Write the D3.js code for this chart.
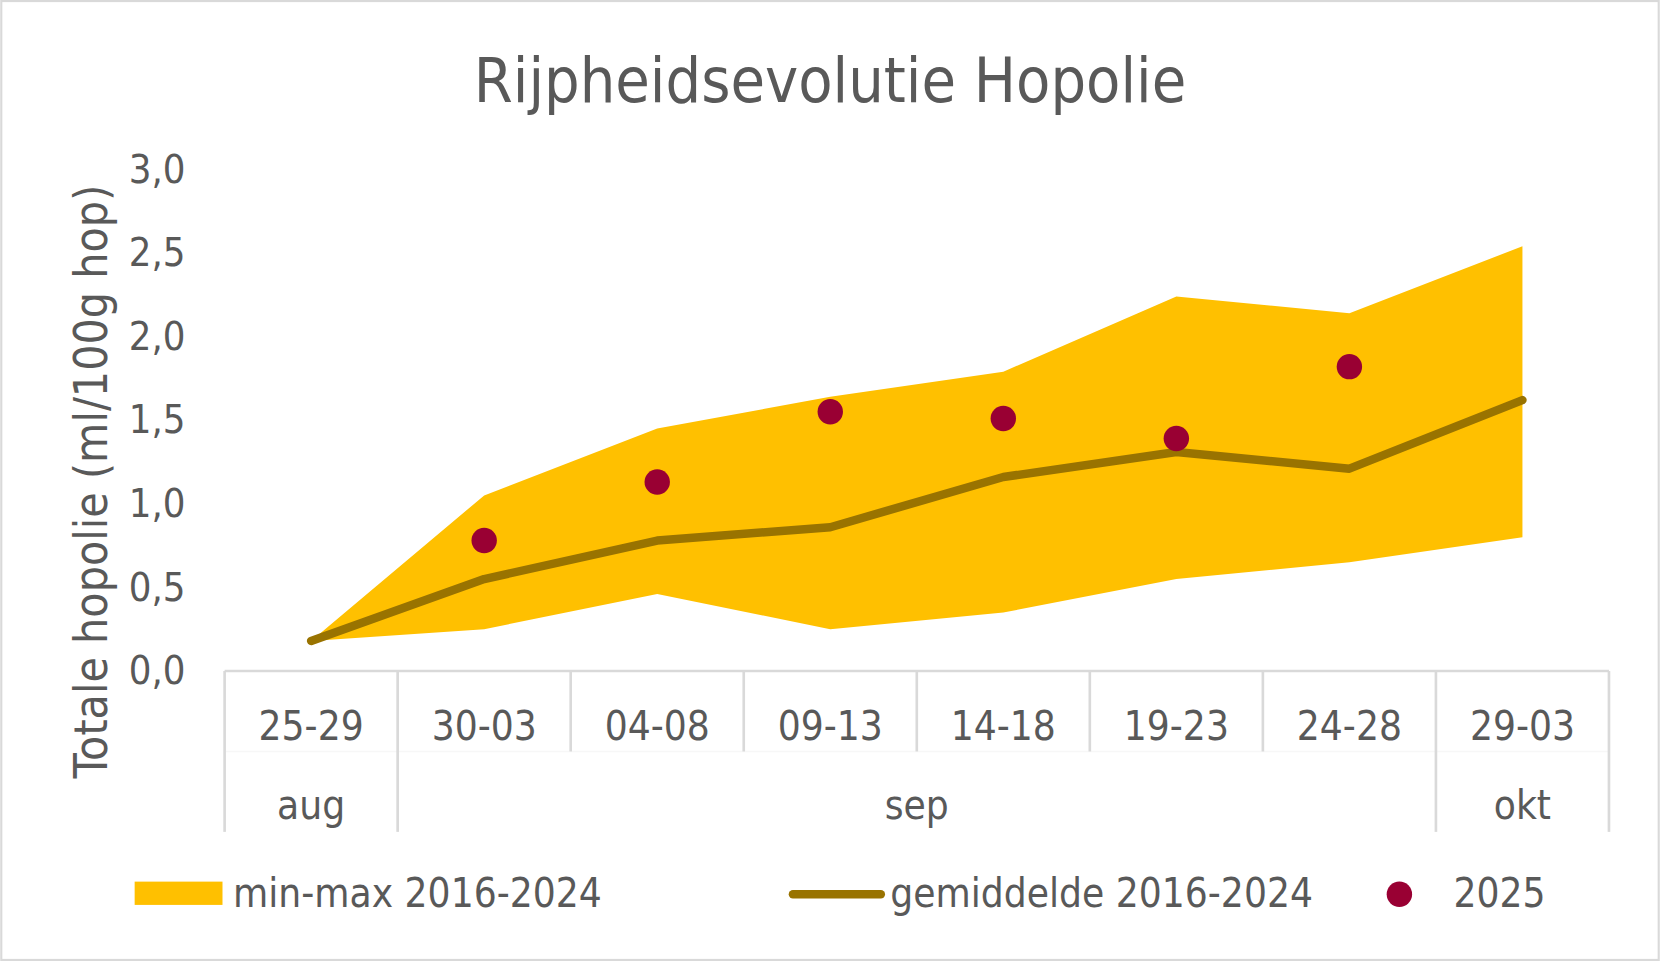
<!DOCTYPE html>
<html>
<head>
<meta charset="utf-8">
<script src="https://cdn.jsdelivr.net/npm/d3@7"></script>
<style>
  body { margin: 0; background: #fff; }
  text { font-family: "DejaVu Sans Condensed", "DejaVu Sans", sans-serif; font-stretch: condensed; fill: #595959; }
</style>
</head>
<body>
<div id="chart"></div>
<script>
// weeks (period labels) and the month they belong to
var categories = ["25-29", "30-03", "04-08", "09-13", "14-18", "19-23", "24-28", "29-03"];
var months = ["aug", "sep", "okt"];
var monthCounts = [1, 6, 1];

// totale hopolie (ml/100g hop)
var minValues  = [0.18, 0.25, 0.46, 0.25, 0.35, 0.55, 0.65, 0.80];
var maxValues  = [0.18, 1.05, 1.45, 1.64, 1.79, 2.24, 2.14, 2.54];
var meanValues = [0.18, 0.55, 0.78, 0.86, 1.16, 1.31, 1.21, 1.62];
var values2025 = [null, 0.78, 1.13, 1.55, 1.51, 1.39, 1.82, null];

var yTicks = [0, 0.5, 1, 1.5, 2, 2.5, 3];

var legendLabels = ["min-max 2016-2024", "gemiddelde 2016-2024", "2025"];

var W = 1568, H = 908,
    plot = {left: 212, right: 1520, top: 160, bottom: 634},
    colors = {band: "#FFC000", mean: "#997300", dot: "#990033", grid: "#D9D9D9"};

var svg = d3.select("#chart")
  .append("svg")
  .attr("width", 1660)
  .attr("height", 961)
  .attr("viewBox", `0 0 ${W} ${H}`);

svg.append("rect")
  .attr("x", 1).attr("y", 1)
  .attr("width", W - 2).attr("height", H - 2)
  .attr("fill", "#fff")
  .attr("stroke", colors.grid)
  .attr("stroke-width", 2);

var xScale = d3.scaleBand().domain(categories).range([plot.left, plot.right]);
var yScale = d3.scaleLinear().domain([0, 3]).range([plot.bottom, plot.top]);
var cx = d => xScale(d) + xScale.bandwidth() / 2;

var fmt = d3.formatLocale({decimal: ",", thousands: ".", grouping: [3], currency: ["€", ""]}).format(".1f");

// title
svg.append("text")
  .attr("x", 784).attr("y", 96)
  .attr("text-anchor", "middle")
  .style("font-size", "59px")
  .text("Rijpheidsevolutie Hopolie");

// y axis
var yAxis = d3.axisLeft(yScale).tickValues(yTicks).tickFormat(fmt).tickSize(0).tickPadding(37);
var gy = svg.append("g")
  .attr("transform", `translate(${plot.left},0)`)
  .call(yAxis);
gy.select(".domain").remove();
gy.selectAll("text")
  .style("font-size", "37.5px")
  .attr("fill", "#595959")
  .attr("font-family", null);

svg.append("text")
  .attr("transform", "translate(101,455) rotate(-90)")
  .attr("text-anchor", "middle")
  .style("font-size", "43.5px")
  .text("Totale hopolie (ml/100g hop)");

// data: min-max band
var rows = categories.map((c, i) => ({cat: c, min: minValues[i], max: maxValues[i], mean: meanValues[i], v: values2025[i]}));

svg.append("path")
  .datum(rows)
  .attr("fill", colors.band)
  .attr("d", d3.area().x(d => cx(d.cat)).y0(d => yScale(d.min)).y1(d => yScale(d.max)));

svg.append("path")
  .datum(rows)
  .attr("fill", "none")
  .attr("stroke", colors.mean)
  .attr("stroke-width", 8)
  .attr("stroke-linecap", "round")
  .attr("stroke-linejoin", "round")
  .attr("d", d3.line().x(d => cx(d.cat)).y(d => yScale(d.mean)));

svg.selectAll(".dot")
  .data(rows.filter(d => d.v != null))
  .enter().append("circle")
  .attr("class", "dot")
  .attr("cx", d => cx(d.cat))
  .attr("cy", d => yScale(d.v))
  .attr("r", 12)
  .attr("fill", colors.dot);

// x axis: two-level category axis
var row1 = 710, row2 = 786;
var axisG = svg.append("g").attr("stroke", colors.grid).attr("stroke-width", 2.5);
axisG.append("line")
  .attr("x1", plot.left).attr("x2", plot.right)
  .attr("y1", plot.bottom).attr("y2", plot.bottom);
axisG.append("line")
  .attr("x1", plot.left).attr("x2", plot.right)
  .attr("y1", row1).attr("y2", row1)
  .attr("stroke", "#F7F7F7").attr("stroke-width", 1.5);

var monthStarts = [];
monthCounts.reduce((acc, n) => { monthStarts.push(acc); return acc + n; }, 0);
var boundaries = categories.map((c, i) => i).concat([categories.length]);
axisG.selectAll(".tick-line")
  .data(boundaries)
  .enter().append("line")
  .attr("x1", i => i < categories.length ? xScale(categories[i]) : plot.right)
  .attr("x2", i => i < categories.length ? xScale(categories[i]) : plot.right)
  .attr("y1", plot.bottom)
  .attr("y2", i => (monthStarts.indexOf(i) >= 0 || i === categories.length) ? row2 : row1);

svg.selectAll(".cat-label")
  .data(categories)
  .enter().append("text")
  .attr("x", d => cx(d))
  .attr("y", 699)
  .attr("text-anchor", "middle")
  .style("font-size", "38px")
  .text(d => d);

svg.selectAll(".month-label")
  .data(months)
  .enter().append("text")
  .attr("x", (d, i) => {
    var a = xScale(categories[monthStarts[i]]);
    return a + xScale.bandwidth() * monthCounts[i] / 2;
  })
  .attr("y", 774)
  .attr("text-anchor", "middle")
  .style("font-size", "38px")
  .text(d => d);

// legend
var ly = 845;
var legend = svg.append("g");
legend.append("rect")
  .attr("x", 127).attr("y", 833).attr("width", 83).attr("height", 22)
  .attr("fill", colors.band);
legend.append("line")
  .attr("x1", 749).attr("x2", 832).attr("y1", ly).attr("y2", ly)
  .attr("stroke", colors.mean).attr("stroke-width", 8).attr("stroke-linecap", "round");
legend.append("circle")
  .attr("cx", 1322).attr("cy", ly).attr("r", 12)
  .attr("fill", colors.dot);
legend.selectAll("text")
  .data(legendLabels)
  .enter().append("text")
  .attr("x", (d, i) => [220, 841, 1373][i])
  .attr("y", 857)
  .style("font-size", "38px")
  .text(d => d);
</script>
</body>
</html>
